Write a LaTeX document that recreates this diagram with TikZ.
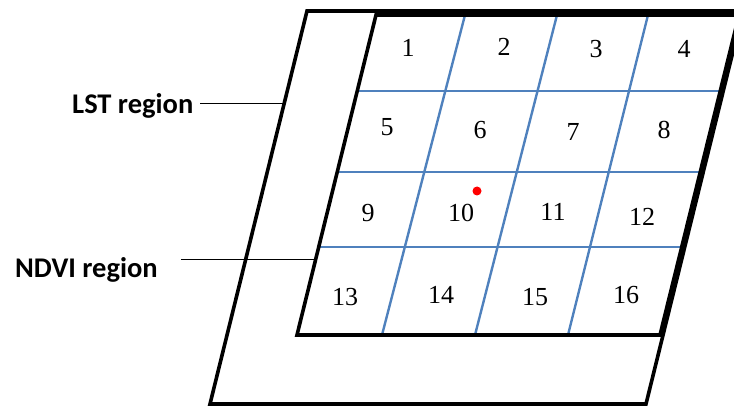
\documentclass[tikz,border=0pt]{standalone}
\usepackage{fontspec}
\setmainfont{Liberation Serif}
\newfontfamily\labelfont{Carlito}
\usetikzlibrary{calc}
\definecolor{gridblue}{RGB}{79,129,189}

\begin{document}
\begin{tikzpicture}[x=1pt,y=-1pt,
		region/.style={line width=3.6pt},
		cellline/.style={gridblue,line width=2.4pt},
		cellnum/.style={font=\fontsize{26}{26}\selectfont},
		regionlabel/.style={font=\labelfont\bfseries\fontsize{28.5}{30}\selectfont,inner sep=0pt,anchor=base west},
		leader/.style={line width=1.2pt}]
				\useasboundingbox (0,0) rectangle (734,406);
				\clip (0,0) rectangle (734,406);
				\coordinate (otl) at (307,11);
				\coordinate (otr) at (743,11);
				\coordinate (obr) at (646,404);
				\coordinate (obl) at (210,404);
				\coordinate (itl) at (376,15);
				\coordinate (itr) at (739,15);
				\coordinate (ibr) at (660,335);
				\coordinate (ibl) at (297,335);
				\foreach \f in {0.275,0.509,0.7625}
					\draw[cellline] ($(ibl)!\f!(itl)$) -- ($(ibr)!\f!(itr)$);
				\foreach \t/\b in {465/382,557/475,648/568}
					\draw[cellline] (\t,15) -- (\b,335);
				\draw[region] (otl) -- (otr) -- (obr) -- (obl) -- cycle;
				\draw[region] (itl) -- (itr) -- (ibr) -- (ibl) -- cycle;
				\foreach \n/\x/\y in {1/408/48,2/504/47,3/596/49,4/684/49,5/387/127,6/480/130,7/573/132,8/664/130,9/368/213,10/461/213,11/553/212,12/642/217,13/345/297,14/441/295,15/535/297,16/626/295}
					\node[cellnum] (c\n) at (\x,\y) {\n};
				\node[circle,fill=red,inner sep=0pt,minimum size=9pt] (spot) at (477,191) {};
				\node[regionlabel] (lst) at (72,114) {LST region};
				\coordinate (lstend) at ($(otl)!0.2347!(obl)$);
				\draw[leader] ([xshift=7pt]lst.east |- lstend) -- (lstend);
				\node[regionlabel] (ndvi) at (15,277) {NDVI region};
				\coordinate (ndviend) at ($(ibl)!0.2362!(itl)$);
				\draw[leader] ([xshift=23pt]ndvi.east |- ndviend) -- (ndviend);
			\end{tikzpicture}
\end{document}
